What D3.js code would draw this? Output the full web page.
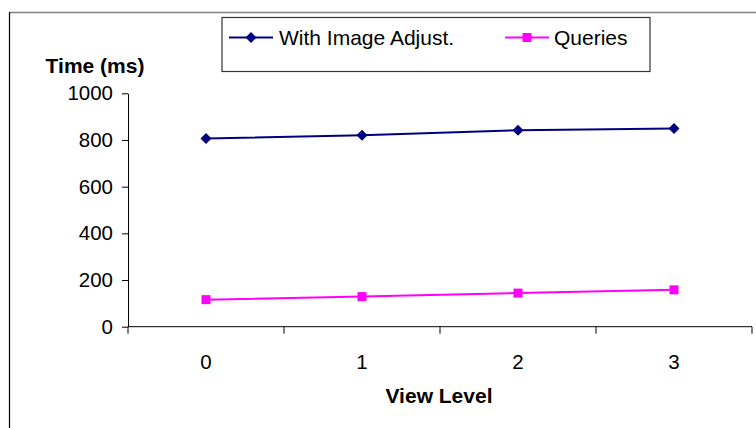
<!DOCTYPE html>
<html>
<head>
<meta charset="utf-8">
<script src="https://cdn.jsdelivr.net/npm/d3@7"></script>
<style>
  html, body { margin: 0; padding: 0; background: #fff; }
  svg { display: block; }
  text { font-family: Arial, "Liberation Sans", sans-serif; fill: #000; }
</style>
</head>
<body>
<svg id="chart" width="756" height="428"></svg>
<script>
// View levels on the x axis
const levels = ["0", "1", "2", "3"];
// Response time in milliseconds per view level
const withImageAdjust = [806, 820, 842, 849];
const queries = [116, 129, 144, 158];
// Value axis ticks
const yTicks = [0, 200, 400, 600, 800, 1000];

const series = [
  { name: "With Image Adjust.", values: withImageAdjust, color: "#000080", marker: "diamond" },
  { name: "Queries", values: queries, color: "#FF00FF", marker: "square" }
];

const svg = d3.select("#chart");
const plot = { left: 128, right: 752, top: 93.3, bottom: 326.7 };

const x = d3.scaleBand().domain(levels).range([plot.left, plot.right]);
const y = d3.scaleLinear().domain([0, 1000]).range([plot.bottom, plot.top]);

// Outer frame (top and left edges)
svg.append("line").attr("x1", 9).attr("x2", 756).attr("y1", 12.5).attr("y2", 12.5)
  .attr("stroke", "#808080").attr("stroke-width", 1.5);
svg.append("line").attr("x1", 9.5).attr("x2", 9.5).attr("y1", 12).attr("y2", 428)
  .attr("stroke", "#000").attr("stroke-width", 1.2);

// Y axis
const yAxis = svg.append("g")
  .attr("transform", `translate(${plot.left},0)`)
  .call(d3.axisLeft(y).tickValues(yTicks).tickFormat(d3.format("d"))
    .tickSize(6).tickPadding(9).tickSizeOuter(0));
yAxis.select(".domain").attr("stroke", "#000");
yAxis.selectAll(".tick line").attr("stroke", "#000");
yAxis.selectAll(".tick text").style("font-size", "20.5px")
  .style("font-family", "Arial, 'Liberation Sans', sans-serif").attr("fill", "#000");

// X axis: ticks at band boundaries, labels at band centres
const xAxis = svg.append("g").attr("transform", `translate(0,${plot.bottom})`);
xAxis.append("line").attr("x1", plot.left).attr("x2", plot.right)
  .attr("y1", 0).attr("y2", 0).attr("stroke", "#000");
const boundaries = levels.map(d => x(d)).concat([x(levels[levels.length - 1]) + x.bandwidth()]);
xAxis.selectAll(".xt").data(boundaries).join("line")
  .attr("x1", d => d).attr("x2", d => d).attr("y1", 0).attr("y2", 7).attr("stroke", "#000");
xAxis.selectAll(".xl").data(levels).join("text")
  .attr("x", d => x(d) + x.bandwidth() / 2)
  .attr("y", 42)
  .attr("text-anchor", "middle")
  .style("font-size", "20.5px")
  .text(d => d);

// Axis titles
svg.append("text").attr("x", 95).attr("y", 73).attr("text-anchor", "middle")
  .style("font-size", "21px").style("font-weight", "bold").text("Time (ms)");
svg.append("text").attr("x", 439).attr("y", 403).attr("text-anchor", "middle")
  .style("font-size", "21px").style("font-weight", "bold").text("View Level");

// Marker shapes
function drawMarker(g, kind, cx, cy, color) {
  if (kind === "diamond") {
    const r = 5.5;
    g.append("path")
      .attr("d", `M${cx},${cy - r}L${cx + r},${cy}L${cx},${cy + r}L${cx - r},${cy}Z`)
      .attr("fill", color);
  } else {
    const s = 9;
    g.append("rect").attr("x", cx - s / 2).attr("y", cy - s / 2)
      .attr("width", s).attr("height", s).attr("fill", color);
  }
}

// Series lines and markers
const line = d3.line()
  .x((d, i) => x(levels[i]) + x.bandwidth() / 2)
  .y(d => y(d));

series.forEach(s => {
  const g = svg.append("g");
  g.append("path").datum(s.values).attr("d", line)
    .attr("fill", "none").attr("stroke", s.color).attr("stroke-width", 2);
  s.values.forEach((v, i) => {
    drawMarker(g, s.marker, x(levels[i]) + x.bandwidth() / 2, y(v), s.color);
  });
});

// Legend
const legend = svg.append("g");
legend.append("rect").attr("x", 222).attr("y", 17.5).attr("width", 428).attr("height", 54)
  .attr("fill", "#fff").attr("stroke", "#333").attr("stroke-width", 1.2);
const legendItems = [
  { s: series[0], x0: 229, x1: 273, tx: 279 },
  { s: series[1], x0: 505, x1: 549, tx: 554 }
];
const ly = 37.5;
legendItems.forEach(it => {
  legend.append("line").attr("x1", it.x0).attr("x2", it.x1).attr("y1", ly).attr("y2", ly)
    .attr("stroke", it.s.color).attr("stroke-width", 2);
  drawMarker(legend, it.s.marker, (it.x0 + it.x1) / 2, ly, it.s.color);
  legend.append("text").attr("x", it.tx).attr("y", ly + 7.5)
    .style("font-size", "21px").text(it.s.name);
});
</script>
</body>
</html>
